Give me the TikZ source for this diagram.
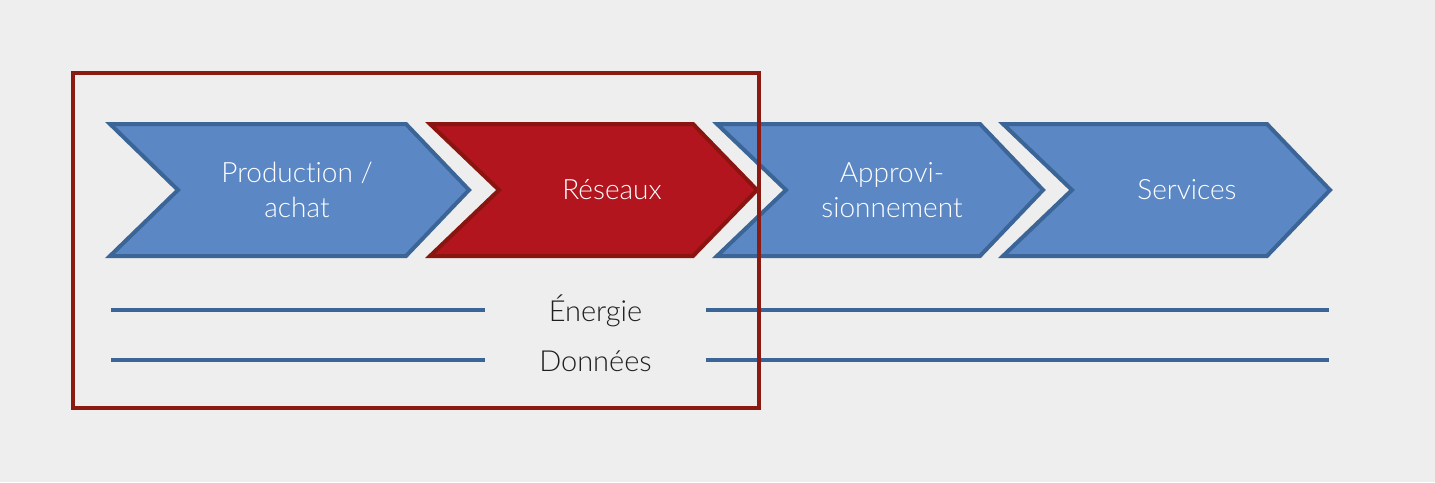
\documentclass[tikz,border=0pt]{standalone}
\usepackage{fontspec}
\setmainfont{Lato Light}[Ligatures=NoCommon]
\usepackage{tikz}
\usetikzlibrary{positioning}

\definecolor{bgray}{HTML}{EEEEEE}
\definecolor{chevblue}{HTML}{5B88C5}
\definecolor{edgeblue}{HTML}{3A6596}
\definecolor{chevred}{HTML}{B2151E}
\definecolor{edgered}{HTML}{8A1410}
\definecolor{framered}{HTML}{8B1A12}

\tikzset{
  bluechev/.style={fill=chevblue, draw=edgeblue, line width=4pt, line join=miter},
  redchev/.style={fill=chevred, draw=edgered, line width=4pt, line join=miter},
  chevtext/.style={text=white, align=center, font=\fontsize{28}{35}\selectfont},
  flowlabel/.style={text=black!88, minimum width=221pt, inner sep=0pt, font=\fontsize{29}{32}\selectfont},
  flowline/.style={draw=edgeblue, line width=4pt}
}

\begin{document}
\begin{tikzpicture}[x=1pt, y=-1pt]
        \fill[bgray] (0,0) rectangle (1435,482);
        \useasboundingbox (0,0) rectangle (1435,482);
        % chevrons
        \filldraw[bluechev] (110,124) -- (406,124) -- (469,190) -- (406,256) -- (110,256) -- (178,190) -- cycle;
        \filldraw[redchev] (430,124) -- (693,124) -- (757,190) -- (693,256) -- (430,256) -- (499,190) -- cycle;
        \filldraw[bluechev] (717,124) -- (980,124) -- (1043,190) -- (980,256) -- (717,256) -- (786,190) -- cycle;
        \filldraw[bluechev] (1003,124) -- (1267,124) -- (1330,190) -- (1267,256) -- (1003,256) -- (1072,190) -- cycle;
        \node[chevtext] (prod) at (297,190) {Production /\\achat};
        \node[chevtext] (reseaux) at (612,190) {Réseaux};
        \node[chevtext] (appro) at (892,190) {Approvi-\\sionnement};
        \node[chevtext] (services) at (1187,190) {Services};
        % flows
        \node[flowlabel] (energie) at (595.5,311) {Énergie};
        \node[flowlabel] (donnees) at (595.5,361) {Données};
        \coordinate (e-left) at (111,310);
        \coordinate (e-right) at (1329,310);
        \coordinate (d-left) at (111,360);
        \coordinate (d-right) at (1329,360);
        \draw[flowline] (e-left) -- (e-left -| energie.west);
        \draw[flowline] (e-right -| energie.east) -- (e-right);
        \draw[flowline] (d-left) -- (d-left -| donnees.west);
        \draw[flowline] (d-right -| donnees.east) -- (d-right);
        % frame
        \draw[framered, line width=4pt] (73,73) rectangle (759,408);
    \end{tikzpicture}
\end{document}
